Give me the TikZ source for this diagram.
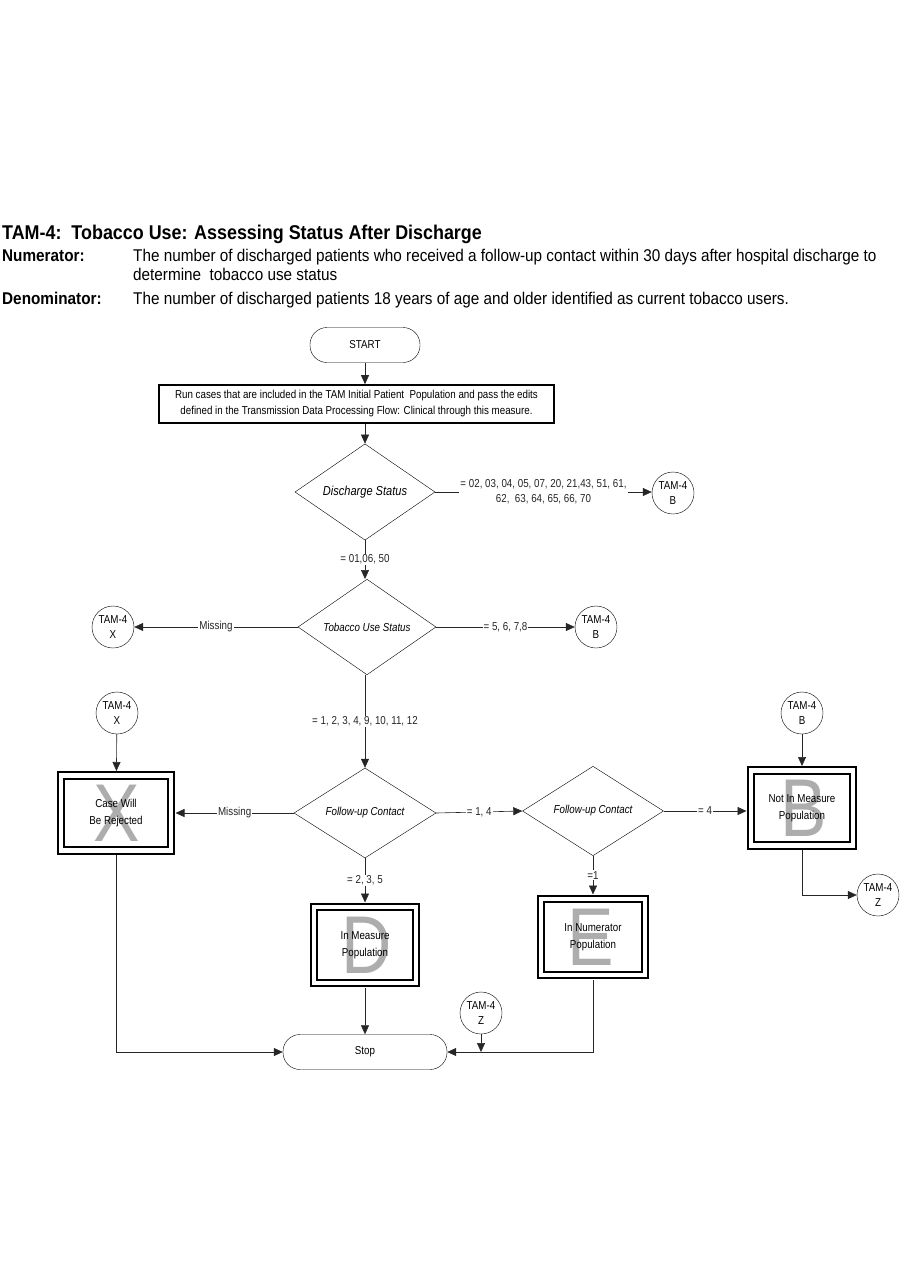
\documentclass[tikz,border=0pt]{standalone}
\usepackage{fontspec}
\setmainfont[FakeStretch=0.85]{Liberation Sans}
\newfontfamily\headfont[FakeStretch=0.9]{Liberation Sans}
\usetikzlibrary{shapes}
\usetikzlibrary{arrows.meta}
\usetikzlibrary{calc}
\tikzset{flow/.style={draw,thin,font=\fontsize{11.5}{16}\selectfont,align=center}}
\tikzset{terminal/.style={flow,rectangle,rounded corners=17pt,minimum height=35pt}}
\tikzset{decision/.style={flow,diamond,inner sep=0pt,font=\fontsize{11.5}{14}\selectfont\itshape}}
\tikzset{outcome/.style={rectangle,draw,line width=2pt,double,double distance=4.5pt,outer sep=4.5pt,minimum width=102pt,minimum height=76pt,font=\fontsize{11.5}{17}\selectfont,align=center}}
\tikzset{connector/.style={draw,thin,circle,minimum size=42pt,inner sep=0pt,font=\fontsize{11.5}{15}\selectfont,align=center}}
\tikzset{bigletter/.style={text=black!32,inner sep=0pt,font=\fontsize{82}{82}\selectfont}}
\tikzset{line/.style={black!85,semithick,>={Triangle[length=9pt,width=8pt]}}}
\tikzset{lbl/.style={fill=white,inner sep=1pt,font=\fontsize{11.5}{15}\selectfont,align=center}}
\tikzset{headline/.style={anchor=base west,inner sep=0pt,font=\headfont\fontsize{17}{19}\selectfont}}

\begin{document}
\begin{tikzpicture}[x=1pt,y=-1pt]
  \useasboundingbox (0,0) rectangle (901,1287);
  % Heading
  \node[headline,font=\headfont\fontsize{19.9}{22}\selectfont\bfseries] (title) at (2,239) {TAM-4:\ \ Tobacco Use: Assessing Status After Discharge};
  \node[headline,font=\headfont\fontsize{17}{19}\selectfont\bfseries] (numlab) at (2,261) {Numerator:};
  \node[headline] (numtxt1) at (133,261) {The number of discharged patients who received a follow-up contact within 30 days after hospital discharge to};
  \node[headline] (numtxt2) at (133,280) {determine\ \ tobacco use status};
  \node[headline,font=\headfont\fontsize{17}{19}\selectfont\bfseries] (denlab) at (2,304) {Denominator:};
  \node[headline] (dentxt) at (133,304) {The number of discharged patients 18 years of age and older identified as current tobacco users.};

  % Big letters
  \node[bigletter] (lX) at (117,813) {X};
  \node[bigletter] (lD) at (367,945) {D};
  \node[bigletter] (lE) at (591,937) {E};
  \node[bigletter] (lB) at (804,808) {B};

  % Flow
  \node[terminal,minimum width=110pt] (start) at (365,345) {START};
  \node[flow,line width=1.6pt,minimum width=395pt,minimum height=38pt,inner sep=2pt] (run) at (356.5,404) {Run cases that are included in the TAM Initial Patient\ \ Population and pass the edits\\defined in the Transmission Data Processing Flow: Clinical through this measure.};
  \node[decision,minimum width=140pt,minimum height=93pt,font=\fontsize{13}{15}\selectfont\itshape] (ds) at (365,492) {Discharge Status};
  \node[connector] (cB1) at (673,493) {TAM-4\\B};
  \node[decision,minimum width=138pt,minimum height=92pt] (tb) at (367,627) {Tobacco Use Status};
  \node[connector] (cX1) at (113,627) {TAM-4\\X};
  \node[connector] (cB2) at (596,627) {TAM-4\\B};
  \node[decision,minimum width=142pt,minimum height=90pt] (fu1) at (365,813) {Follow-up Contact};
  \node[decision,minimum width=141pt,minimum height=88pt] (fu2) at (593,811) {Follow-up Contact};
  \node[connector] (cX2) at (117,713) {TAM-4\\X};
  \node[connector] (cB3) at (802,713) {TAM-4\\B};
  \node[outcome,minimum width=110pt,minimum height=75pt] (bX) at (116,813) {Case Will\\Be Rejected};
  \node[outcome] (bD) at (365,945) {In Measure\\Population};
  \node[outcome,minimum width=104pt] (bE) at (593,937) {In Numerator\\Population};
  \node[outcome,minimum height=75pt] (bB) at (802,808) {Not In Measure\\Population};
  \node[connector] (cZ1) at (878,895) {TAM-4\\Z};
  \node[connector] (cZ2) at (481,1013) {TAM-4\\Z};
  \node[terminal,minimum width=164pt] (stop) at (365,1052) {Stop};
  \coordinate (zjoin) at (cZ2 |- stop.east);

  % Connectors
  \draw[line,->] (start.south) -- (start.south |- run.north);
  \draw[line,->] (run.south -| start) -- (ds.north);
  \draw[line,->] (ds.east) -- node[lbl] {= 02, 03, 04, 05, 07, 20, 21,43, 51, 61,\\62,\ \ 63, 64, 65, 66, 70} (ds.east -| cB1.west);
  \draw[line,->] (ds.south) -- node[lbl] {= 01,06, 50} (ds.south |- tb.north);
  \draw[line,->] (tb.west) -- node[lbl] {Missing} (cX1);
  \draw[line,->] (tb.east) -- node[lbl] {= 5, 6, 7,8} (cB2);
  \draw[line,->] (tb.south -| ds) -- node[lbl] {= 1, 2, 3, 4, 9, 10, 11, 12} (fu1.north);
  \draw[line,->] (fu1.west) -- node[lbl] {Missing} (bX.east);
  \draw[line,->] (cX2) -- (bX);
  \draw[line,->] (fu1.south) -- node[lbl] {= 2, 3, 5} (bD.north);
  \draw[line,->] (fu1.east) -- node[lbl] {= 1, 4} (fu2.west);
  \draw[line,->] (fu2.south) -- node[lbl] {=1} (bE.north);
  \draw[line,->] (fu2.east) -- node[lbl] {= 4} (fu2.east -| bB.west);
  \draw[line,->] (cB3) -- (bB);
  \draw[line,->] (bB.south) |- (cZ1.west);
  \draw[line,->] (bX.south) |- (stop.west);
  \draw[line,->] (bD.south) -- (stop.north);
  \draw[line,->] (bE.south) |- (stop.east);
  \draw[line,->] (cZ2) -- (zjoin);
\end{tikzpicture}
\end{document}
